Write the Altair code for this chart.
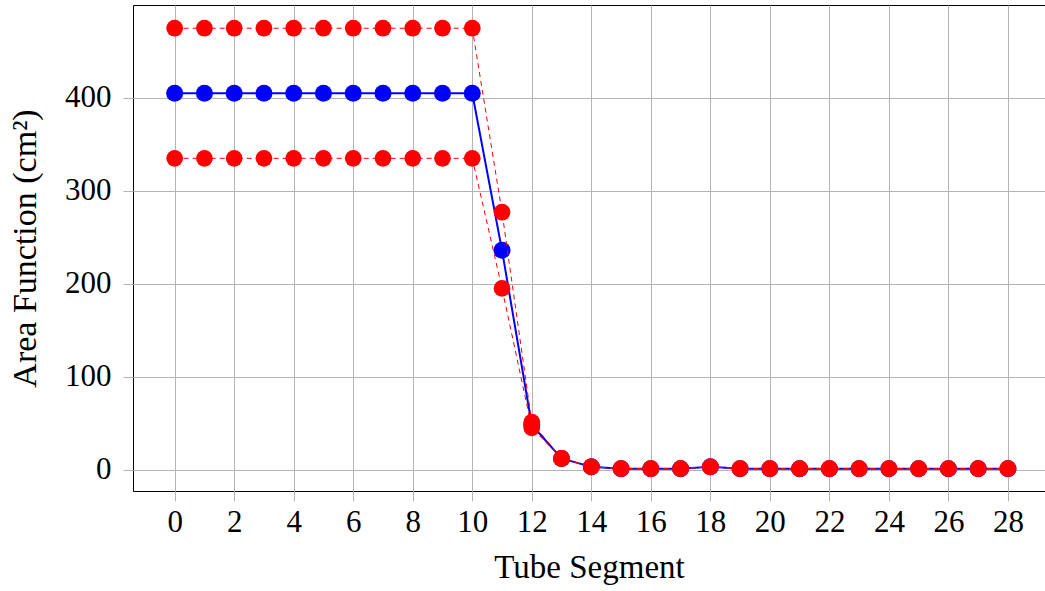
import altair as alt
import pandas as pd

segments = [0, 1, 2, 3, 4, 5, 6, 7, 8, 9, 10, 11, 12, 13, 14, 15, 16, 17, 18, 19, 20, 21, 22, 23, 24, 25, 26, 27, 28]
area_mean = [405, 405, 405, 405, 405, 405, 405, 405, 405, 405, 405, 236, 48, 12, 3, 1, 1, 1, 3, 1, 1, 1, 1, 1, 1, 1, 1, 1, 1]
area_upper = [475, 475, 475, 475, 475, 475, 475, 475, 475, 475, 475, 277, 51, 12, 3, 1, 1, 1, 3, 1, 1, 1, 1, 1, 1, 1, 1, 1, 1]
area_lower = [335, 335, 335, 335, 335, 335, 335, 335, 335, 335, 335, 195, 45, 12, 3, 1, 1, 1, 3, 1, 1, 1, 1, 1, 1, 1, 1, 1, 1]
x_ticks = [0, 2, 4, 6, 8, 10, 12, 14, 16, 18, 20, 22, 24, 26, 28]
y_ticks = [0, 100, 200, 300, 400]

df_mean = pd.DataFrame({"seg": segments, "area": area_mean})
df_up = pd.DataFrame({"seg": segments, "area": area_upper})
df_lo = pd.DataFrame({"seg": segments, "area": area_lower})

FONT = "Liberation Serif"
xs = alt.Scale(domain=[-1.4, 29.245], nice=False, zero=False)
ys = alt.Scale(domain=[-23, 500], nice=False, zero=False)

xenc = alt.X("seg:Q", scale=xs, axis=alt.Axis(values=x_ticks, title="Tube Segment", labelPadding=6, titlePadding=14, titleFontSize=33))
yenc = alt.Y("area:Q", scale=ys, axis=alt.Axis(values=y_ticks, title="Area Function (cm²)", labelPadding=12, titlePadding=22, titleFontSize=34))

blue_line = alt.Chart(df_mean).mark_line(color="#0000ff", strokeWidth=2).encode(x=xenc, y=yenc)
blue_pts = alt.Chart(df_mean).mark_point(filled=True, shape="circle", color="#0000ff", size=290, opacity=1).encode(x="seg:Q", y="area:Q")
red_up_line = alt.Chart(df_up).mark_line(color="#ff0000", strokeWidth=1, strokeDash=[5, 4]).encode(x="seg:Q", y="area:Q")
red_lo_line = alt.Chart(df_lo).mark_line(color="#ff0000", strokeWidth=1, strokeDash=[5, 4]).encode(x="seg:Q", y="area:Q")
red_up_pts = alt.Chart(df_up).mark_point(filled=True, shape="circle", color="#ff0000", size=280, opacity=1).encode(x="seg:Q", y="area:Q")
red_lo_pts = alt.Chart(df_lo).mark_point(filled=True, shape="circle", color="#ff0000", size=280, opacity=1).encode(x="seg:Q", y="area:Q")

chart = alt.layer(
    blue_line, blue_pts, red_up_line, red_lo_line, red_up_pts, red_lo_pts
).properties(
    width=912,
    height=486,
    autosize=alt.AutoSizeParams(type="none"),
    padding={"left": 133, "top": 5, "right": 0, "bottom": 100},
).configure_view(
    stroke="#000000", strokeWidth=1
).configure_axis(
    grid=True,
    gridColor="#b4b4b4",
    gridWidth=1,
    tickColor="#b4b4b4",
    tickSize=10,
    domain=False,
    labelFont=FONT,
    labelFontSize=31,
    labelColor="#000000",
    titleFont=FONT,
    titleFontWeight="normal",
    titleColor="#000000",
)

chart.save("out.html", embed_options={"renderer": "svg", "actions": False})
